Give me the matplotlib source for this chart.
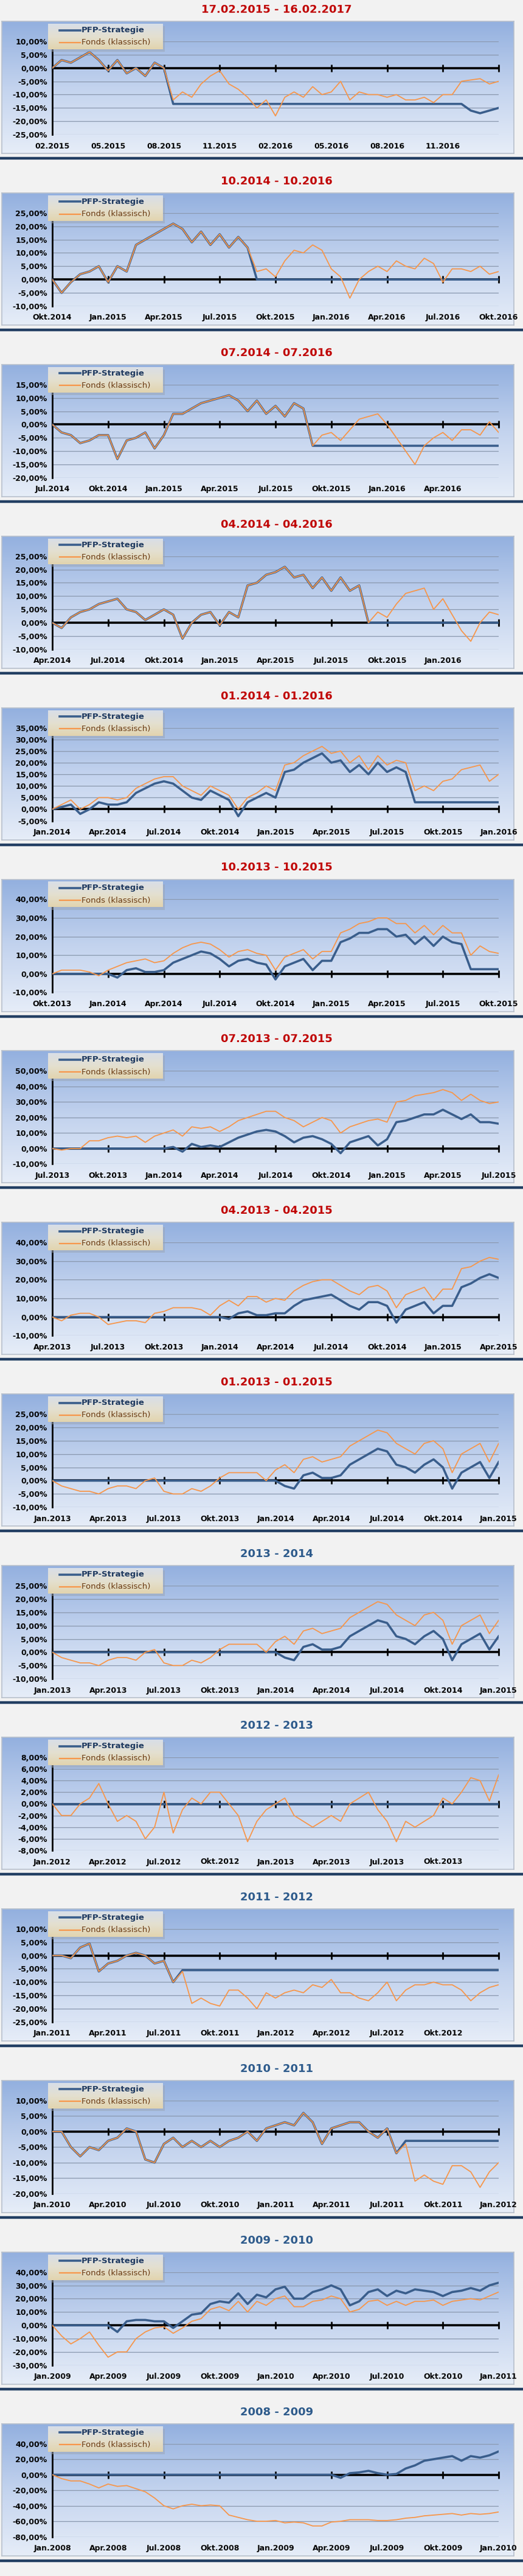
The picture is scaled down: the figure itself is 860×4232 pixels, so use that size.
import numpy as np
import matplotlib
matplotlib.use("Agg")
import matplotlib.pyplot as plt
from matplotlib.patches import Rectangle
from matplotlib.colors import LinearSegmentedColormap

FONT = ['Liberation Sans Narrow', 'DejaVu Sans']

titles = ["17.02.2015 - 16.02.2017", "10.2014 - 10.2016", "07.2014 - 07.2016",
          "04.2014 - 04.2016", "01.2014 - 01.2016", "10.2013 - 10.2015",
          "07.2013 - 07.2015", "04.2013 - 04.2015", "01.2013 - 01.2015",
          "2013 - 2014", "2012 - 2013", "2011 - 2012", "2010 - 2011",
          "2009 - 2010", "2008 - 2009"]

xlabels = [
    ["02.2015", "05.2015", "08.2015", "11.2015", "02.2016", "05.2016", "08.2016", "11.2016"],
    ["Okt.2014", "Jan.2015", "Apr.2015", "Jul.2015", "Okt.2015", "Jan.2016", "Apr.2016", "Jul.2016", "Okt.2016"],
    ["Jul.2014", "Okt.2014", "Jan.2015", "Apr.2015", "Jul.2015", "Okt.2015", "Jan.2016", "Apr.2016"],
    ["Apr.2014", "Jul.2014", "Okt.2014", "Jan.2015", "Apr.2015", "Jul.2015", "Okt.2015", "Jan.2016"],
    ["Jan.2014", "Apr.2014", "Jul.2014", "Okt.2014", "Jan.2015", "Apr.2015", "Jul.2015", "Okt.2015", "Jan.2016"],
    ["Okt.2013", "Jan.2014", "Apr.2014", "Jul.2014", "Okt.2014", "Jan.2015", "Apr.2015", "Jul.2015", "Okt.2015"],
    ["Jul.2013", "Okt.2013", "Jan.2014", "Apr.2014", "Jul.2014", "Okt.2014", "Jan.2015", "Apr.2015", "Jul.2015"],
    ["Apr.2013", "Jul.2013", "Okt.2013", "Jan.2014", "Apr.2014", "Jul.2014", "Okt.2014", "Jan.2015", "Apr.2015"],
    ["Jan.2013", "Apr.2013", "Jul.2013", "Okt.2013", "Jan.2014", "Apr.2014", "Jul.2014", "Okt.2014", "Jan.2015"],
    ["Jan.2013", "Apr.2013", "Jul.2013", "Okt.2013", "Jan.2014", "Apr.2014", "Jul.2014", "Okt.2014", "Jan.2015"],
    ["Jan.2012", "Apr.2012", "Jul.2012", "Okt.2012", "Jan.2013", "Apr.2013", "Jul.2013", "Okt.2013"],
    ["Jan.2011", "Apr.2011", "Jul.2011", "Okt.2011", "Jan.2012", "Apr.2012", "Jul.2012", "Okt.2012"],
    ["Jan.2010", "Apr.2010", "Jul.2010", "Okt.2010", "Jan.2011", "Apr.2011", "Jul.2011", "Okt.2011", "Jan.2012"],
    ["Jan.2009", "Apr.2009", "Jul.2009", "Okt.2009", "Jan.2010", "Apr.2010", "Jul.2010", "Okt.2010", "Jan.2011"],
    ["Jan.2008", "Apr.2008", "Jul.2008", "Okt.2008", "Jan.2009", "Apr.2009", "Jul.2009", "Okt.2009", "Jan.2010"],
]

yranges = [(-25, 10, 5), (-10, 25, 5), (-20, 15, 5), (-10, 25, 5), (-5, 35, 5),
           (-10, 40, 10), (-10, 50, 10), (-10, 40, 10), (-10, 25, 5), (-10, 25, 5),
           (-8, 8, 2), (-25, 10, 5), (-20, 10, 5), (-30, 40, 10), (-80, 40, 20)]

# half-monthly readings (% performance)
fonds_1 = [0,3,2,4,6,3,-1,3,-2,0,-3,2,0,-12,-9,-11,-6,-3,-1,-6,-8,-11,-15,-12,-18,-11,-9,-11,-7,-10,-9,-5,-12,-9,-10,-10,-11,-10,-12,-12,-11,-13,-10,-10,-5,-4.5,-4,-6,-5]
pfp_1 = [0,3,2,4,6,3,-1,3,-2,0,-3,2,0] + [-13.5]*32 + [-16,-17,-16,-15]
fonds_2 = [0,-5,-1,2,3,5,-1,5,3,13,15,17,19,21,19,14,18,13,17,12,16,12,3,4,1,7,11,10,13,11,4,1,-7,0,3,5,3,7,5,4,8,6,-1,4,4,3,5,2,3]
pfp_2 = [0,-5,-1,2,3,5,-1,5,3,13,15,17,19,21,19,14,18,13,17,12,16,12] + [0]*27
fonds_3 = [0,-3,-4,-7,-6,-4,-4,-13,-6,-5,-3,-9,-4,4,4,6,8,9,10,11,9,5,9,4,7,3,8,6,-8,-4,-3,-6,-2,2,3,4,0,-5,-10,-15,-8,-5,-3,-6,-2,-2,-4,1,-3]
pfp_3 = [0,-3,-4,-7,-6,-4,-4,-13,-6,-5,-3,-9,-4,4,4,6,8,9,10,11,9,5,9,4,7,3,8,6] + [-8]*21
fonds_4 = [0,-2,2,4,5,7,8,9,5,4,1,3,5,3,-6,0,3,4,-1,4,2,14,15,18,19,21,17,18,13,17,12,17,12,14,0,4,2,7,11,12,13,5,9,3,-3,-7,0,4,3]
pfp_4 = [0,-2,2,4,5,7,8,9,5,4,1,3,5,3,-6,0,3,4,-1,4,2,14,15,18,19,21,17,18,13,17,12,17,12,14] + [0]*15
fonds_5 = [0,2,4,0,2,5,5,4,5,9,11,13,14,14,10,8,6,10,8,6,0,5,7,10,8,19,20,23,25,27,24,25,20,23,17,23,19,21,20,8,10,8,12,13,17,18,19,12,15]
pfp_5 = [0,1,2,-2,0,3,2,2,3,7,9,11,12,11,8,5,4,8,6,4,-3,3,5,7,5,16,17,20,22,24,20,21,16,19,15,20,16,18,16,3] + [3]*9
fonds_6 = [0,2,2,2,1,-1,2,4,6,7,8,6,7,11,14,16,17,16,13,9,12,13,11,10,2,9,11,13,8,12,12,22,24,27,28,30,30,27,27,22,26,21,26,22,22,10,15,12,11]
pfp_6 = [0]*7 + [-2,2,3,1,1,2,6,8,10,12,11,8,4,7,8,6,5,-3,4,6,8,2,7,7,17,19,22,22,24,24,20,21,16,20,15,20,17,16,2.5,2.5,2.5,2.5]
fonds_7 = [0,-1,0,0,5,5,7,8,7,8,4,8,10,12,8,14,13,14,11,14,18,20,22,24,24,20,18,14,17,20,18,10,14,16,18,19,17,30,31,34,35,36,38,36,31,35,31,29,30]
pfp_7 = [0]*13 + [1,-2,3,1,2,1,4,7,9,11,12,11,8,4,7,8,6,3,-3,4,6,8,2,6,17,18,20,22,22,25,22,19,22,17,17,16]
fonds_8 = [0,-2,1,2,2,0,-4,-3,-2,-2,-3,2,3,5,5,5,4,1,6,9,6,11,11,8,10,9,14,17,19,20,20,17,14,12,16,17,14,5,12,14,16,9,15,15,26,27,30,32,31]
pfp_8 = [0]*19 + [-1,2,3,1,1,2,2,6,9,10,11,12,9,6,4,8,8,6,-3,4,6,8,2,6,6,16,18,21,23,21]
fonds_9 = [0,-2,-3,-4,-4,-5,-3,-2,-2,-3,0,1,-4,-5,-5,-3,-4,-2,1,3,3,3,3,0,4,6,3,8,9,7,8,9,13,15,17,19,18,14,12,10,14,15,12,3,10,12,14,7,14]
pfp_9 = [0]*25 + [-2,-3,2,3,1,1,2,6,8,10,12,11,6,5,3,6,8,5,-3,3,5,7,1,7]
fonds_10 = [0,-2,-3,-4,-4,-5,-3,-2,-2,-3,0,1,-4,-5,-5,-3,-4,-2,1,3,3,3,3,0,4,6,3,8,9,7,8,9,13,15,17,19,18,14,12,10,14,15,12,3,10,12,14,7,12]
pfp_10 = [0]*25 + [-2,-3,2,3,1,1,2,6,8,10,12,11,6,5,3,6,8,5,-3,3,5,7,1,6]
fonds_11 = [0,-2,-2,0,1,3.5,0,-3,-2,-3,-6,-4,2,-5,-1,1,0,2,2,0,-2,-6.5,-3,-1,0,1,-2,-3,-4,-3,-2,-3,0,1,2,-1,-3,-6.5,-3,-4,-3,-2,1,0,2,4.5,4,0.5,5]
pfp_11 = [0]*49
fonds_12 = [0,0,-1,3,4.5,-6,-3,-2,0,1,0,-3,-2,-10,-6,-18,-16,-18,-19,-13,-13,-16,-20,-14,-16,-14,-13,-14,-11,-12,-9,-14,-14,-16,-17,-14,-10,-17,-13,-11,-11,-10,-11,-11,-13,-17,-14,-12,-11]
pfp_12 = [0,0,-1,3,4.5,-6,-3,-2,0,1,0,-3,-2,-10] + [-5.5]*35
fonds_13 = [0,0,-5,-8,-5,-6,-3,-2,1,0,-9,-10,-4,-2,-5,-3,-5,-3,-5,-3,-2,0,-3,1,2,3,2,6,3,-4,1,2,3,3,0,-2,1,-7,-4,-16,-14,-16,-17,-11,-11,-13,-18,-13,-10]
pfp_13 = [0,0,-5,-8,-5,-6,-3,-2,1,0,-9,-10,-4,-2,-5,-3,-5,-3,-5,-3,-2,0,-3,1,2,3,2,6,3,-4,1,2,3,3,0,-2,1,-7] + [-3]*11
fonds_14 = [0,-8,-14,-10,-5,-15,-24,-20,-20,-10,-5,-2,-1,-6,-2,3,5,12,14,11,18,10,18,15,20,22,14,14,18,19,22,20,10,12,18,19,15,18,15,18,18,19,15,18,19,20,19,22,25]
pfp_14 = [0]*7 + [-5,3,4,4,3,3,-2,3,8,9,16,18,17,24,16,23,21,27,29,20,20,25,27,30,27,15,18,25,27,22,26,24,27,26,25,22,25,26,28,26,30,32]
fonds_15 = [0,-5,-8,-8,-12,-17,-12,-15,-14,-18,-22,-30,-40,-44,-40,-38,-40,-39,-40,-52,-55,-58,-60,-60,-59,-62,-61,-62,-66,-66,-61,-60,-58,-58,-58,-59,-59,-58,-56,-55,-53,-52,-51,-50,-52,-50,-51,-50,-48]
pfp_15 = [0]*31 + [-4,2,3,5,2,0,1,8,12,18,20,22,24,18,24,22,25,30]

fonds_all = [fonds_1, fonds_2, fonds_3, fonds_4, fonds_5, fonds_6, fonds_7, fonds_8,
             fonds_9, fonds_10, fonds_11, fonds_12, fonds_13, fonds_14, fonds_15]
pfp_all = [pfp_1, pfp_2, pfp_3, pfp_4, pfp_5, pfp_6, pfp_7, pfp_8,
           pfp_9, pfp_10, pfp_11, pfp_12, pfp_13, pfp_14, pfp_15]

W, H = 860, 4232
fig = plt.figure(figsize=(W / 100, H / 100), dpi=100)
fig.patch.set_facecolor('#F2F2F2')


def fax(x0, y0, x1, y1, **kw):
    return fig.add_axes([x0 / W, 1 - y1 / H, (x1 - x0) / W, (y1 - y0) / H], **kw)


bg_cmap = LinearSegmentedColormap.from_list('bg', ['#93B0DF', '#C3D3EE', '#E6EDF8'])
lg_cmap = LinearSegmentedColormap.from_list('lg', ['#D8DEE8', '#E4E0D0', '#E2D4AE'])
grad = np.linspace(0, 1, 256).reshape(-1, 1)

BLUE = '#3A5E8C'
ORANGE = '#F7964A'

for k in range(15):
    sep = 260 + 281.9 * k
    btop, bbot = sep - 225, sep - 8
    title_col = '#C00000' if k < 9 else '#2E5B8C'
    fig.text(455 / W, 1 - (sep - 244) / H, titles[k], ha='center', va='center',
             fontsize=13, fontweight='bold', color=title_col, family=FONT)
    # box with gradient
    bax = fax(3, btop, 845, bbot)
    bax.imshow(grad, aspect='auto', cmap=bg_cmap, extent=[0, 1, 0, 1], origin='upper')
    bax.set_xticks([]); bax.set_yticks([])
    for s in bax.spines.values():
        s.set_color('#B8C0CC'); s.set_linewidth(1.2)
    # separator
    fig.add_artist(plt.Line2D([0, 1], [1 - sep / H] * 2, color='#233F63', lw=3.2,
                              transform=fig.transFigure))
    # plot axes
    ax = fax(86, btop + 33, 820, bbot - 31)
    ax.patch.set_alpha(0)
    lo, hi, st = yranges[k]
    ax.set_ylim(lo, hi)
    ax.set_xlim(0, 24)
    yt = np.arange(lo, hi + st / 2, st)
    ax.set_yticks(yt)
    ax.set_yticklabels([("%.2f" % v).replace('.', ',') + '%' for v in yt],
                       fontsize=9, fontweight='bold', family=FONT)
    for v in yt:
        ax.axhline(v, color='#8A98AE', lw=0.9, zorder=1)
    xt = np.arange(0, 25, 3)
    ax.set_xticks(xt)
    labs = xlabels[k] + [''] * (len(xt) - len(xlabels[k]))
    ax.set_xticklabels(labs, fontsize=9, fontweight='bold', family=FONT)
    ax.tick_params(axis='both', length=0)
    ax.tick_params(axis='x', pad=9)
    ax.tick_params(axis='y', pad=6)
    for s in ['top', 'right', 'bottom']:
        ax.spines[s].set_visible(False)
    ax.spines['left'].set_color('black')
    ax.spines['left'].set_linewidth(2)
    ax.axhline(0, color='black', lw=2.6, zorder=2)
    ax.plot(xt, np.zeros(len(xt)), ls='none', marker='|', ms=9, mew=2,
            color='black', zorder=2, clip_on=False)
    f = np.array(fonds_all[k], float)
    p = np.array(pfp_all[k], float)
    ax.plot(np.linspace(0, 24, len(p)), p, color=BLUE, lw=2.6, zorder=3,
            solid_joinstyle='round')
    ax.plot(np.linspace(0, 24, len(f)), f, color=ORANGE, lw=1.3, zorder=4)
    # legend
    sh = fax(83, btop + 8, 271, btop + 50)
    sh.set_facecolor('#9AA4B4'); sh.patch.set_alpha(0.5)
    sh.set_xticks([]); sh.set_yticks([])
    for s in sh.spines.values():
        s.set_visible(False)
    lax = fax(79, btop + 4, 267, btop + 46)
    lax.imshow(grad, aspect='auto', cmap=lg_cmap, extent=[0, 1, 0, 1], origin='upper')
    lax.set_xlim(0, 1); lax.set_ylim(0, 1)
    lax.set_xticks([]); lax.set_yticks([])
    for s in lax.spines.values():
        s.set_visible(False)
    lax.plot([0.10, 0.28], [0.75, 0.75], color=BLUE, lw=2.6)
    lax.plot([0.10, 0.28], [0.27, 0.27], color=ORANGE, lw=1.6)
    lax.text(0.29, 0.75, 'PFP-Strategie', va='center', fontsize=9.5, fontweight='bold',
             color='#1F3A60', family=FONT)
    lax.text(0.29, 0.27, 'Fonds (klassisch)', va='center', fontsize=9.5,
             color='#6A3A12', family=FONT)

fig.savefig('out.png', dpi=100, facecolor=fig.get_facecolor())
